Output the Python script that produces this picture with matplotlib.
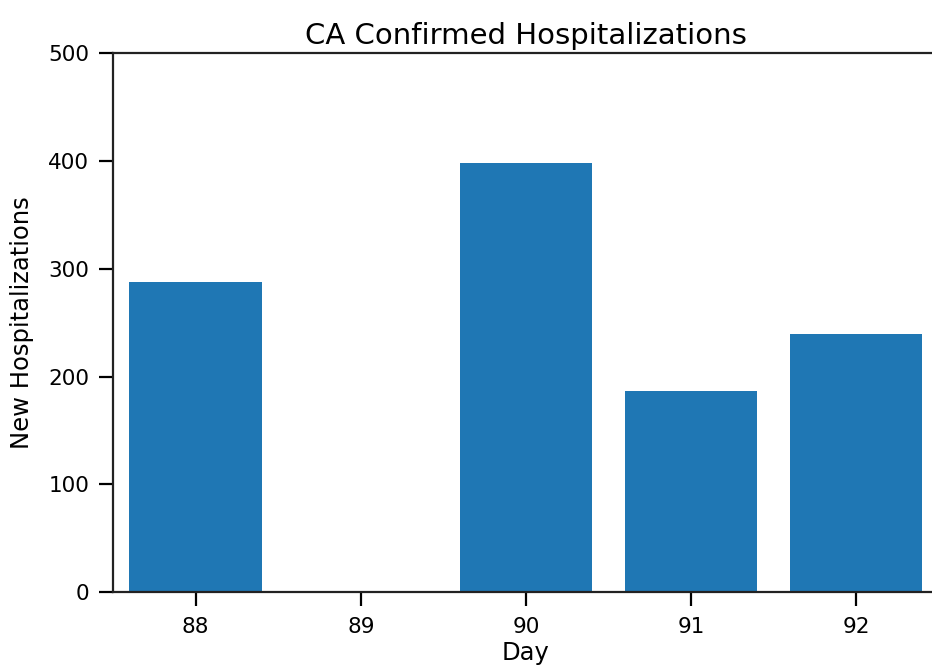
import matplotlib
matplotlib.use("Agg")
import matplotlib.pyplot as plt

# data
days = [88, 89, 90, 91, 92]
new_hosp = [288, 0, 398, 187, 240]

fig = plt.figure(figsize=(9.32, 6.66), dpi=100)
ax = fig.add_axes([0.1212, 0.1111, 0.8863, 0.8086])

ax.bar(days, new_hosp, width=0.8, color="#1f77b4")
ax.set_xlim(87.5, 92.5)
ax.set_ylim(0, 500)
ax.set_xticks(days)
ax.set_yticks([0, 100, 200, 300, 400, 500])

ax.tick_params(labelsize=15.5, length=10, width=1.6)
ax.tick_params(axis="x", pad=8)
ax.tick_params(axis="y", pad=7)
for s in ax.spines.values():
    s.set_linewidth(1.6)
    s.set_color("#222222")

ax.set_title("CA Confirmed Hospitalizations", fontsize=21, pad=7)
ax.set_xlabel("Day", fontsize=17.5, labelpad=3)
ax.set_ylabel("New Hospitalizations", fontsize=17.5, labelpad=10)

fig.savefig("out.png", dpi=100)
